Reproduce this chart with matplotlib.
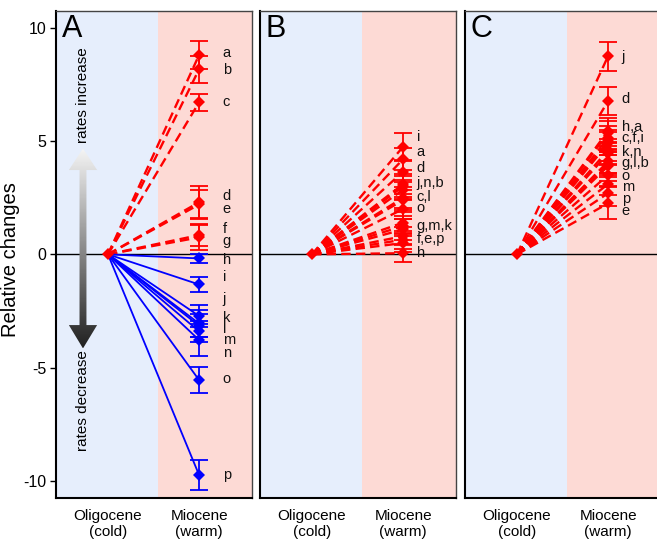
import numpy as np
import matplotlib
matplotlib.use("Agg")
import matplotlib.pyplot as plt
from matplotlib.path import Path
from matplotlib.patches import PathPatch

plt.rcParams['font.family'] = ['Liberation Sans', 'DejaVu Sans']

# ---------------- data ----------------
periods = ["Oligocene\n(cold)", "Miocene\n(warm)"]

# Panel A
a_letters = list("abcdefghijklmnop")
a_values = [8.80, 8.17, 6.71, 2.30, 2.20, 0.85, 0.75, -0.18, -1.33, -2.72,
            -3.05, -3.15, -3.40, -3.78, -5.55, -9.74]
a_errors = [0.63, 0.60, 0.37, 0.70, 0.62, 0.50, 0.55, 0.20, 0.35, 0.50,
            0.60, 0.50, 0.45, 0.70, 0.58, 0.65]
a_label_text = list("abcdefghijklmnop")
a_label_y = [8.87, 8.13, 6.74, 2.59, 2.00, 1.12, 0.60, -0.25, -1.01, -1.97,
             -2.83, -3.30, -3.78, -4.37, -5.52, -9.74]

# Panel B
b_letters = ["i", "a", "d", "j", "n", "b", "c", "l", "o", "g", "m", "k", "f", "e", "p", "h"]
b_values = [4.75, 4.20, 3.65, 3.10, 3.00, 2.85, 2.50, 2.40, 2.00, 1.40,
            1.25, 1.10, 0.80, 0.65, 0.50, 0.05]
b_errors = [0.60, 0.50, 0.45, 0.45, 0.45, 0.45, 0.45, 0.45, 0.45, 0.45,
            0.45, 0.45, 0.40, 0.40, 0.40, 0.40]
b_label_text = ["i", "a", "d", "j,n,b", "c,l", "o", "g,m,k", "f,e,p", "h"]
b_label_y = [5.19, 4.53, 3.80, 3.13, 2.52, 2.03, 1.25, 0.66, 0.04]

# Panel C
c_letters = ["j", "d", "h", "a", "c", "f", "i", "k", "n", "g", "l", "b", "o", "m", "p", "e"]
c_values = [8.75, 6.77, 5.45, 5.35, 5.15, 5.00, 4.90, 4.60, 4.45, 4.10,
            4.00, 3.90, 3.50, 3.10, 2.70, 2.25]
c_errors = [0.64, 0.62, 0.55, 0.55, 0.50, 0.50, 0.50, 0.50, 0.50, 0.50,
            0.50, 0.50, 0.50, 0.50, 0.55, 0.70]
c_label_text = ["j", "d", "h,a", "c,f,i", "k,n", "g,l,b", "o", "m", "p", "e"]
c_label_y = [8.72, 6.86, 5.63, 5.12, 4.53, 4.02, 3.46, 2.98, 2.44, 1.91]

panel_names = ["A", "B", "C"]

# ---------------- styling ----------------
BLUE_BG = "#E6EEFC"
PINK_BG = "#FDDAD5"
RED = "#FF0000"
BLUE = "#0000FF"
XL = (0.43, 2.58)
YL = (-10.75, 10.75)
SPLIT = 1.548

fig = plt.figure(figsize=(6.57, 5.42), dpi=100)
W, H = 657, 542
lefts = [56, 260, 465]
pw = 196
top, bottom = 10.7, 498

panels = [
    (a_values, a_errors, a_label_text, a_label_y, 2.26),
    (b_values, b_errors, b_label_text, b_label_y, 2.15),
    (c_values, c_errors, c_label_text, c_label_y, 2.15),
]

for k, (vals, errs, ltxt, ly, lx) in enumerate(panels):
    ax = fig.add_axes([lefts[k] / W, (H - bottom) / H, pw / W, (bottom - top) / H])
    ax.set_xlim(*XL)
    ax.set_ylim(*YL)
    ax.axvspan(XL[0], SPLIT, color=BLUE_BG, zorder=0, lw=0)
    ax.axvspan(SPLIT, XL[1], color=PINK_BG, zorder=0, lw=0)
    ax.axhline(0, color="black", lw=1.0, zorder=1)

    x0, x1 = 1, 2
    for v, e in zip(vals, errs):
        if v >= 0:
            ax.plot([x0, x1], [0, v], color=RED, lw=1.7, ls=(0, (4, 2.2)), zorder=2)
        else:
            ax.plot([x0, x1], [0, v], color=BLUE, lw=1.3, ls="-", zorder=2)
    for v, e in zip(vals, errs):
        col = RED if v >= 0 else BLUE
        ax.errorbar([x1], [v], yerr=[e], fmt="none", ecolor=col,
                    capsize=6.5, elinewidth=1.3, capthick=1.3, zorder=3)
        ax.plot([x1], [v], marker="D", color=col, ms=6.5, mew=0, zorder=3.5)
    ax.plot([x0], [0], marker="D", color=RED, ms=6.5, zorder=4, mew=0)

    for t, y in zip(ltxt, ly):
        ax.text(lx, y, t, fontsize=10.5, ha="left", va="center", color="#111111", zorder=5)

    ax.text(0.03, 0.993, panel_names[k], transform=ax.transAxes, fontsize=22,
            ha="left", va="top", zorder=6)

    ax.set_xticks([x0, x1])
    ax.set_xticklabels(periods, fontsize=11)
    ax.tick_params(axis="x", length=0, pad=8)
    for s in ["top", "right"]:
        ax.spines[s].set_color("#444444")
        ax.spines[s].set_linewidth(1.0)
    for s in ["left", "bottom"]:
        ax.spines[s].set_color("black")
        ax.spines[s].set_linewidth(1.5)
    if k == 0:
        ax.set_yticks([-10, -5, 0, 5, 10])
        ax.set_yticklabels(["-10", "-5", "0", "5", "10"], fontsize=11.5)
        ax.tick_params(axis="y", length=4, pad=3, width=1)
        ax.set_ylabel("Relative changes", fontsize=14.5)
        ax.yaxis.set_label_coords(-0.184, 0.49)

        # gradient arrow
        cx, hw, hh = 0.726, 0.038, 0.155
        verts = [(cx, 4.67), (cx + hh, 3.72), (cx + hw, 3.72), (cx + hw, -3.12),
                 (cx + hh, -3.12), (cx, -4.15), (cx - hh, -3.12), (cx - hw, -3.12),
                 (cx - hw, 3.72), (cx - hh, 3.72), (cx, 4.67)]
        path = Path(verts, closed=True)
        patch = PathPatch(path, facecolor="none", edgecolor="none")
        ax.add_patch(patch)
        grad = np.linspace(0.96, 0.13, 256).reshape(-1, 1)
        im = ax.imshow(grad, cmap="gray", vmin=0, vmax=1, aspect="auto",
                       extent=(cx - hh, cx + hh, -4.15, 4.67), zorder=1.5,
                       origin="upper")
        im.set_clip_path(patch)
        ax.text(cx, 7.03, "rates increase", rotation=90, ha="center", va="center",
                fontsize=11, zorder=5)
        ax.text(cx, -6.47, "rates decrease", rotation=90, ha="center", va="center",
                fontsize=11, zorder=5)
        ax.set_xlim(*XL)
        ax.set_ylim(*YL)
    else:
        ax.set_yticks([])

fig.savefig("out.png", dpi=100)
